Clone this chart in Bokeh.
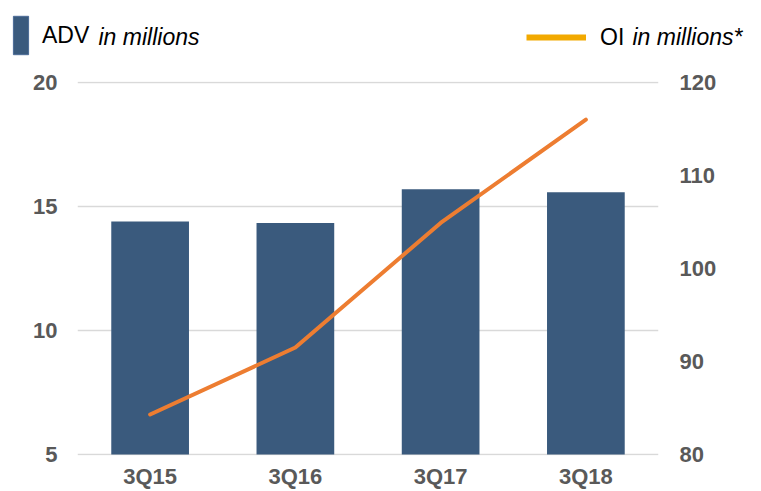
from bokeh.plotting import figure
from bokeh.layouts import column
from bokeh.models import (FactorRange, Range1d, LinearAxis, FixedTicker, Legend,
                          LegendItem, Label, ColumnDataSource)
from bokeh.embed import file_html
from bokeh.resources import INLINE

# ---- data ----
quarters = ["3Q15", "3Q16", "3Q17", "3Q18"]
adv_millions = [14.4, 14.33, 15.7, 15.57]
oi_millions = [84.3, 91.5, 104.9, 116.0]
left_ticks = [5, 10, 15, 20]
right_ticks = [80, 90, 100, 110, 120]

# ---- layout / style ----
W = 761
LEG_H = 62
FRAME_H = 374
B_LEFT, B_RIGHT, B_TOP, B_BOTTOM = 77, 103, 19, 36
MAIN_H = B_TOP + FRAME_H + B_BOTTOM

FONT = "Liberation Sans"
BAR_COLOR = "#3A5A7D"
SWATCH_EDGE = "#4A6A96"
LINE_COLOR = "#ED7D31"
LEG_LINE_COLOR = "#F2A900"
TICK_COLOR = "#595959"

# one pixel of padding so the outer grid lines are not clipped
lpad = (left_ticks[-1] - left_ticks[0]) / (FRAME_H - 2)
rpad = (right_ticks[-1] - right_ticks[0]) / (FRAME_H - 2)

src = ColumnDataSource(dict(q=quarters, adv=adv_millions, oi=oi_millions))

x_rng = FactorRange(factors=quarters, range_padding=0)
y_rng = Range1d(left_ticks[0] - lpad, left_ticks[-1] + lpad)
oi_rng = Range1d(right_ticks[0] - rpad, right_ticks[-1] + rpad)

p = figure(x_range=x_rng, y_range=y_rng,
           width=W, height=MAIN_H, output_backend="svg", toolbar_location=None,
           min_border_left=B_LEFT, min_border_right=B_RIGHT,
           min_border_top=B_TOP, min_border_bottom=B_BOTTOM,
           outline_line_color=None, background_fill_color="white",
           border_fill_color="white")
p.extra_y_ranges = {"oi": oi_rng}

p.xgrid.grid_line_color = None
p.ygrid.ticker = FixedTicker(ticks=left_ticks)
p.ygrid.grid_line_color = "#D9D9D9"
p.ygrid.grid_line_width = 1.5

def style_axis(ax, standoff):
    ax.axis_line_color = None
    ax.major_tick_line_color = None
    ax.minor_tick_line_color = None
    ax.major_tick_out = 0
    ax.major_tick_in = 0
    ax.minor_tick_out = 0
    ax.minor_tick_in = 0
    ax.major_label_text_font = FONT
    ax.major_label_text_font_style = "bold"
    ax.major_label_text_font_size = "22px"
    ax.major_label_text_color = TICK_COLOR
    ax.major_label_standoff = standoff

left_axis = p.left[0]
left_axis.ticker = FixedTicker(ticks=left_ticks)
style_axis(left_axis, 20)
style_axis(p.below[0], 8)

right_axis = LinearAxis(y_range_name="oi", ticker=FixedTicker(ticks=right_ticks))
style_axis(right_axis, 21)
p.add_layout(right_axis, "right")

p.vbar(x="q", top="adv", bottom=left_ticks[0], width=0.535, source=src,
       fill_color=BAR_COLOR, line_color=None)
p.line(x="q", y="oi", source=src, y_range_name="oi",
       line_color=LINE_COLOR, line_width=4, line_cap="round", line_join="round")

# ---- legend strip (its own canvas so nothing is clipped) ----
lg = figure(x_range=x_rng, y_range=y_rng,
            width=W, height=LEG_H, output_backend="svg", toolbar_location=None,
            x_axis_location=None, y_axis_location=None,
            min_border_left=0, min_border_right=0, min_border_top=0,
            min_border_bottom=0, outline_line_color=None,
            background_fill_color="white", border_fill_color="white",
            frame_align=False)
lg.extra_y_ranges = {"oi": oi_rng}
lg.grid.visible = False
sw_bar = lg.vbar(x="q", top="adv", bottom=left_ticks[0], width=0.535, source=src,
                 fill_color=BAR_COLOR, line_color=SWATCH_EDGE, line_width=1,
                 visible=False)
sw_line = lg.line(x="q", y="oi", source=src, y_range_name="oi",
                  line_color=LEG_LINE_COLOR, line_width=6, visible=False)

common = dict(padding=0, spacing=0, margin=0, border_line_color=None,
              background_fill_alpha=0, label_text_font=FONT,
              label_text_font_size="23px", label_text_color="black",
              label_height=60)
leg1 = Legend(items=[LegendItem(label="ADV", renderers=[sw_bar])],
              location=(11, LEG_H - 5 - 60),
              glyph_width=19, glyph_height=48, label_standoff=12, **common)
leg2 = Legend(items=[LegendItem(label="OI", renderers=[sw_line])],
              location=(526, LEG_H - 5 - 64),
              glyph_width=60, glyph_height=64, label_standoff=14, **common)
lg.add_layout(leg1)
lg.add_layout(leg2)

for txt, x in [("in millions", 98), ("in millions*", 632)]:
    lg.add_layout(Label(x=x, y=LEG_H - 36, x_units="screen", y_units="screen",
                        text=txt, text_font=FONT, text_font_style="italic",
                        text_font_size="23px", text_color="black",
                        text_baseline="alphabetic", text_align="left"))

layout = column(lg, p, spacing=0)
open("out.html", "w").write(file_html(layout, INLINE))
